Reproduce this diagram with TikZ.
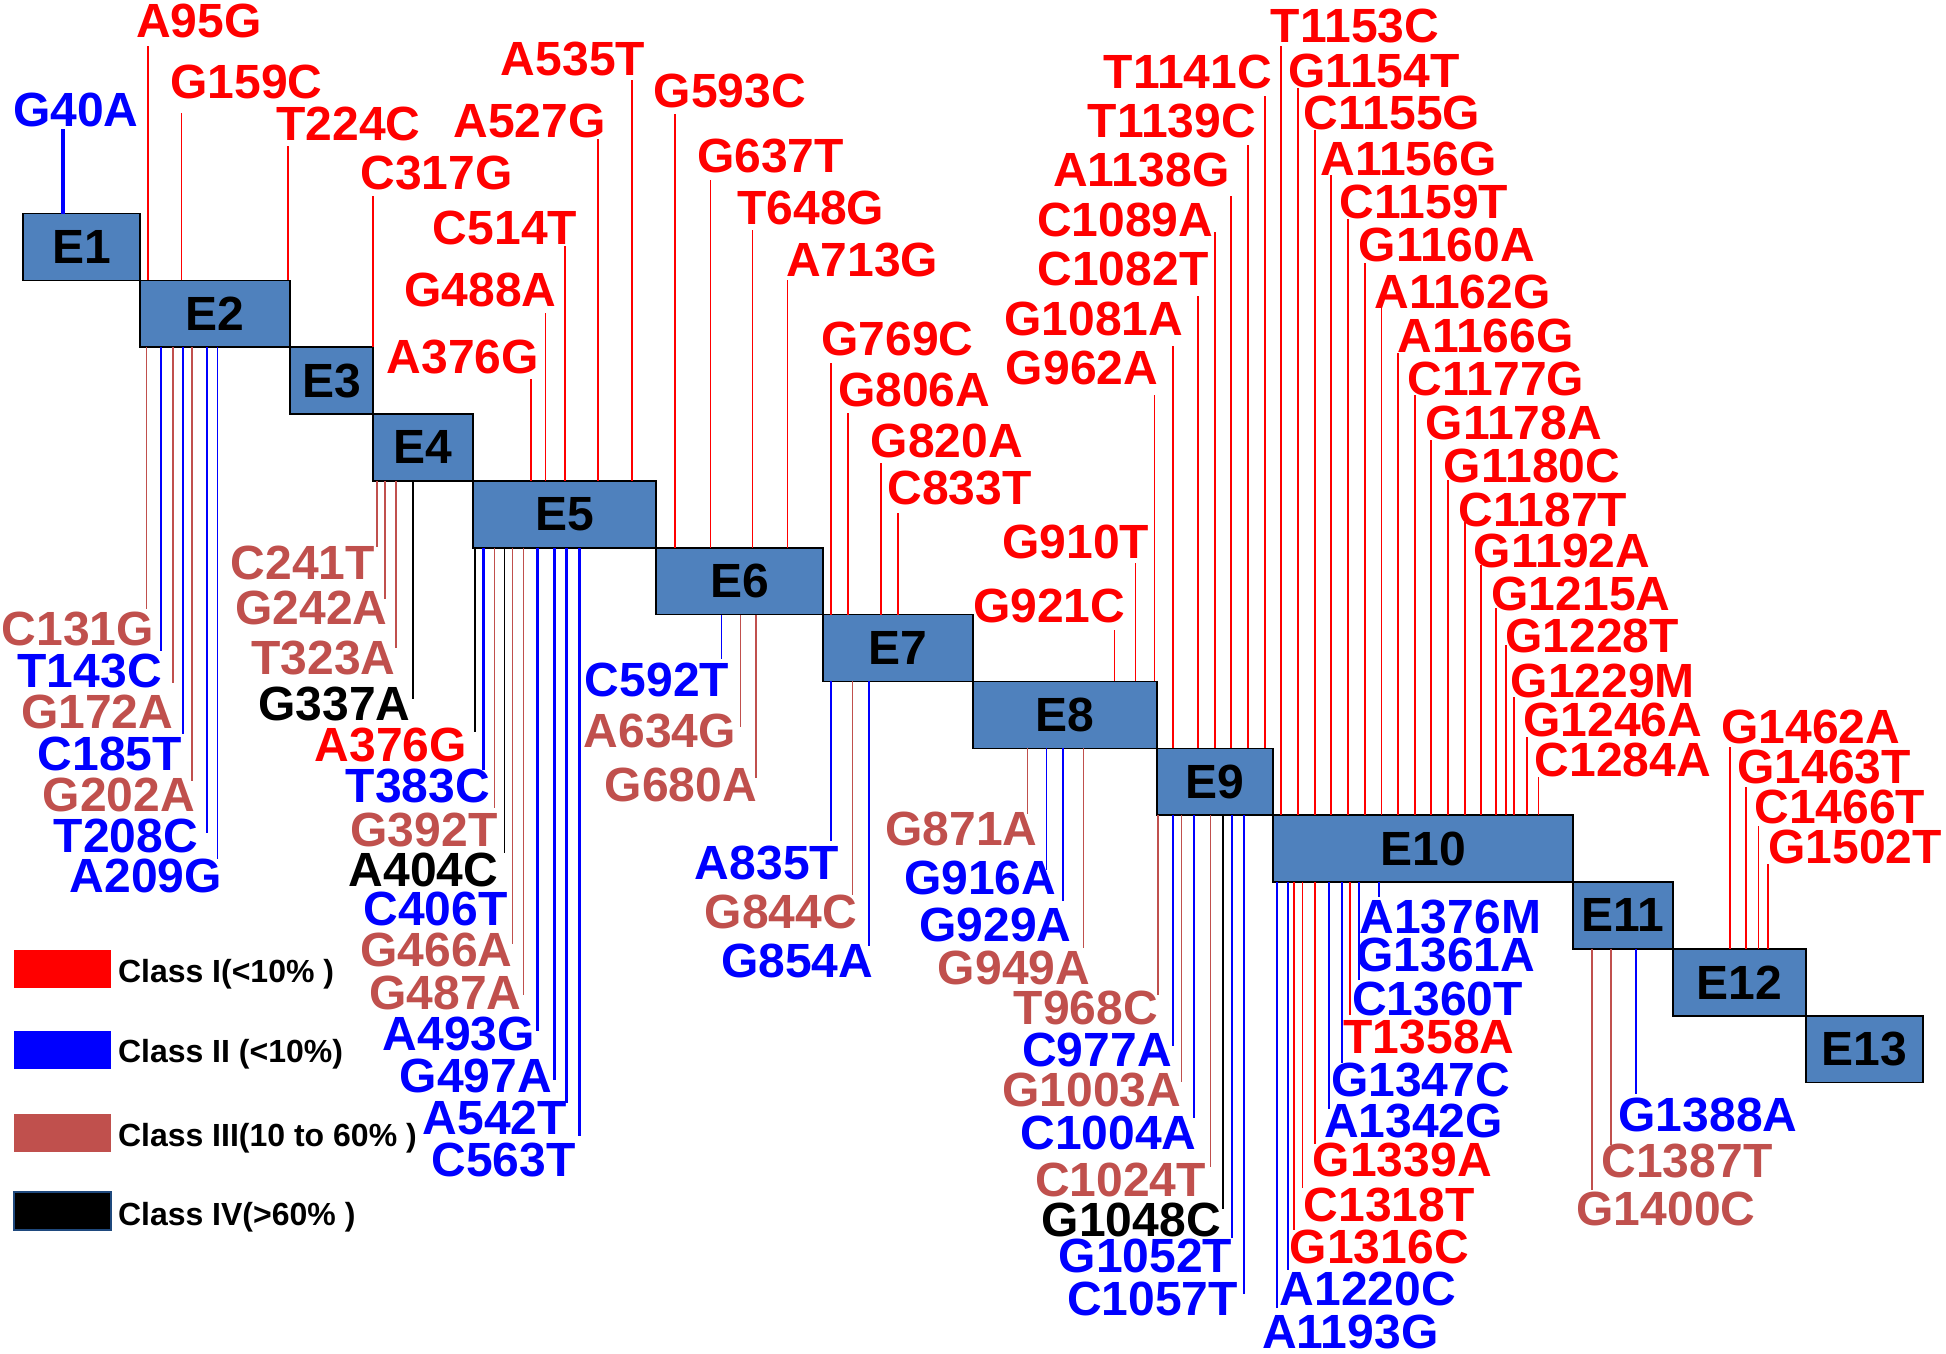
\documentclass[tikz,border=0pt]{standalone}
\usepackage{fontspec}
\setmainfont{Liberation Sans}
\definecolor{myred}{RGB}{255,0,0}
\definecolor{myblue}{RGB}{0,0,255}
\definecolor{mybrown}{RGB}{192,80,77}
\definecolor{boxblue}{RGB}{79,129,189}
\definecolor{swborder}{RGB}{31,73,125}
\newcommand\mlab[4]{\node[lbl,text=#1] (#2) at (#4) {#3};}
\newcommand\mtop[4]{\draw[#1] (#2,0 |- #4.north) -- (#2,#3);}
\newcommand\mbot[4]{\draw[#1] (#2,0 |- #4.south) -- (#2,#3);}
\begin{document}
\begin{tikzpicture}[x=1pt,y=-1pt,
 exon/.style={draw=black,line width=1.6pt,fill=boxblue,anchor=north west,inner sep=0pt,outer sep=0pt,minimum height=66.85pt,font=\fontsize{48}{48}\selectfont\bfseries},
 lbl/.style={anchor=base,inner sep=0pt,outer sep=0pt,font=\fontsize{48}{48}\selectfont\bfseries},
 cR/.style={draw=myred,line width=1.5pt},
 cB/.style={draw=myblue,line width=1.8pt},
 cBT/.style={draw=myblue,line width=3.5pt},
 cW/.style={draw=mybrown,line width=1.5pt},
 cK/.style={draw=black,line width=1.5pt},
 swatch/.style={minimum width=97pt,minimum height=38pt,inner sep=0pt,outer sep=0pt,anchor=north west},
 legtxt/.style={anchor=base west,inner sep=0pt,outer sep=0pt,font=\fontsize{32}{32}\selectfont\bfseries}
]
\fill[white] (0,0) rectangle (1946,1354);
\useasboundingbox (0,0) rectangle (1946,1354);

% exons
\node[exon,minimum width=117pt] (E1) at (23,213.5) {E1};
\node[exon,minimum width=150pt] (E2) at (140,280.35) {E2};
\node[exon,minimum width=83pt] (E3) at (290,347.2) {E3};
\node[exon,minimum width=100pt] (E4) at (373,414.05) {E4};
\node[exon,minimum width=183pt] (E5) at (473,480.9) {E5};
\node[exon,minimum width=167pt] (E6) at (656,547.75) {E6};
\node[exon,minimum width=150pt] (E7) at (823,614.6) {E7};
\node[exon,minimum width=184pt] (E8) at (973,681.45) {E8};
\node[exon,minimum width=116pt] (E9) at (1157,748.3) {E9};
\node[exon,minimum width=300pt] (E10) at (1273,815.15) {E10};
\node[exon,minimum width=100pt] (E11) at (1573,882) {E11};
\node[exon,minimum width=133pt] (E12) at (1673,948.85) {E12};
\node[exon,minimum width=117pt] (E13) at (1806,1015.7) {E13};

% ---------- top mutations ----------
\mlab{myblue}{G40A}{G40A}{75.7,126.8} \mtop{cBT}{63}{129}{E1}
\mlab{myred}{A95G}{A95G}{199,37.5} \mtop{cR}{148}{46}{E2}
\mlab{myred}{G159C}{G159C}{246.5,98} \mtop{cR}{181.7}{113}{E2}
\mlab{myred}{T224C}{T224C}{348.5,140} \mtop{cR}{288}{146}{E2}
\mlab{myred}{C317G}{C317G}{436.5,189} \mtop{cR}{373}{196}{E3}
\mlab{myred}{A376Gt}{A376G}{463,373} \mtop{cR}{531}{379}{E5}
\mlab{myred}{G488A}{G488A}{480.5,306} \mtop{cR}{545.5}{313}{E5}
\mlab{myred}{C514T}{C514T}{505,244} \mtop{cR}{565}{246}{E5}
\mlab{myred}{A527G}{A527G}{529.5,137.5} \mtop{cR}{598}{139}{E5}
\mlab{myred}{A535T}{A535T}{573,75.7} \mtop{cR}{632}{80}{E5}
\mlab{myred}{G593C}{G593C}{730,107} \mtop{cR}{675}{114}{E6}
\mlab{myred}{G637T}{G637T}{770.5,172} \mtop{cR}{710.7}{180}{E6}
\mlab{myred}{T648G}{T648G}{810.7,224.6} \mtop{cR}{752.7}{230}{E6}
\mlab{myred}{A713G}{A713G}{862.3,276.8} \mtop{cR}{787.5}{280}{E6}
\mlab{myred}{G769C}{G769C}{897.5,355} \mtop{cR}{831}{362.5}{E7}
\mlab{myred}{G806A}{G806A}{914.3,406} \mtop{cR}{847.8}{413}{E7}
\mlab{myred}{G820A}{G820A}{947,457.6} \mtop{cR}{881}{463}{E7}
\mlab{myred}{C833T}{C833T}{959.5,504.5} \mtop{cR}{898}{512.5}{E7}
\mlab{myred}{G910T}{G910T}{1075.9,558} \mtop{cR}{1135.7}{563.4}{E8}
\mlab{myred}{G921C}{G921C}{1049.3,622.8} \mtop{cR}{1114.7}{629.5}{E8}
\mlab{myred}{G962A}{G962A}{1082,384.8} \mtop{cR}{1154.5}{395}{E8}
\mlab{myred}{G1081A}{G1081A}{1093.8,335.7} \mtop{cR}{1172.8}{346}{E9}
\mlab{myred}{C1082T}{C1082T}{1123,285.7} \mtop{cR}{1198}{295.5}{E9}
\mlab{myred}{C1089A}{C1089A}{1125.3,236.6} \mtop{cR}{1215}{232}{E9}
\mlab{myred}{A1138G}{A1138G}{1141.3,186.6} \mtop{cR}{1230.8}{195.5}{E9}
\mlab{myred}{T1139C}{T1139C}{1171.8,137.5} \mtop{cR}{1248}{145}{E9}
\mlab{myred}{T1141C}{T1141C}{1187.8,88.4} \mtop{cR}{1265}{96}{E9}
\mlab{myred}{T1153C}{T1153C}{1355,42.4} \mtop{cR}{1280.8}{46}{E10}
\mlab{myred}{G1154T}{G1154T}{1374,87} \mtop{cR}{1298}{88}{E10}
\mlab{myred}{C1155G}{C1155G}{1392,129.5} \mtop{cR}{1314.75}{130}{E10}
\mlab{myred}{A1156G}{A1156G}{1408.4,175} \mtop{cR}{1330.8}{175}{E10}
\mlab{myred}{C1159T}{C1159T}{1424,218.75} \mtop{cR}{1347.8}{219}{E10}
\mlab{myred}{G1160A}{G1160A}{1446.8,261} \mtop{cR}{1364.75}{263}{E10}
\mlab{myred}{A1162G}{A1162G}{1462.5,308} \mtop{cR}{1381.3}{308}{E10}
\mlab{myred}{A1166G}{A1166G}{1485.5,352.7} \mtop{cR}{1398.2}{353}{E10}
\mlab{myred}{C1177G}{C1177G}{1496,395} \mtop{cR}{1414.75}{395}{E10}
\mlab{myred}{G1178A}{G1178A}{1513.8,439.7} \mtop{cR}{1431}{440}{E10}
\mlab{myred}{G1180C}{G1180C}{1532,482} \mtop{cR}{1448}{480}{E10}
\mlab{myred}{C1187T}{C1187T}{1543,526} \mtop{cR}{1464.75}{522}{E10}
\mlab{myred}{G1192A}{G1192A}{1562,567} \mtop{cR}{1481}{565}{E10}
\mlab{myred}{G1215A}{G1215A}{1581,610.7} \mtop{cR}{1496}{608}{E10}
\mlab{myred}{G1228T}{G1228T}{1592,652.7} \mtop{cR}{1506}{645}{E10}
\mlab{myred}{G1229M}{G1229M}{1602.7,697} \mtop{cR}{1514}{697}{E10}
\mlab{myred}{G1246A}{G1246A}{1612.9,736.6} \mtop{cR}{1527}{737}{E10}
\mlab{myred}{C1284A}{C1284A}{1623,776.8} \mtop{cR}{1538.4}{777}{E10}
\mlab{myred}{G1462A}{G1462A}{1810.7,743.3} \mtop{cR}{1730}{747}{E12}
\mlab{myred}{G1463T}{G1463T}{1824,783.5} \mtop{cR}{1746}{787}{E12}
\mlab{myred}{C1466T}{C1466T}{1839.8,823.6} \mtop{cR}{1758.5}{826}{E12}
\mlab{myred}{G1502T}{G1502T}{1855,863.8} \mtop{cR}{1768}{864}{E12}

% ---------- bottom mutations ----------
% E2
\mlab{mybrown}{C131G}{C131G}{78,645} \mbot{cW}{146.4}{609.4}{E2}
\mlab{myblue}{T143C}{T143C}{89.7,687.5} \mbot{cB}{160.7}{651}{E2}
\mlab{mybrown}{G172A}{G172A}{97.2,728.6} \mbot{cW}{172.8}{683}{E2}
\mlab{myblue}{C185T}{C185T}{110,770} \mbot{cB}{183}{734}{E2}
\mlab{mybrown}{G202A}{G202A}{118.7,811.6} \mbot{cW}{192}{781}{E2}
\mlab{myblue}{T208C}{T208C}{126,852.7} \mbot{cB}{206.7}{832.6}{E2}
\mlab{myblue}{A209G}{A209G}{146,892.9} \mbot{cB}{217.4}{859}{E2}
% E4
\mlab{mybrown}{C241T}{C241T}{303,579.5} \mbot{cW}{377}{547}{E4}
\mlab{mybrown}{G242A}{G242A}{311.6,624} \mbot{cW}{384.8}{599}{E4}
\mlab{mybrown}{T323A}{T323A}{323.5,674} \mbot{cW}{396}{648}{E4}
\mlab{black}{G337A}{G337A}{334.5,720} \mbot{cK}{413}{698.7}{E4}
% E5
\mlab{myred}{A376Gb}{A376G}{391,761} \mbot{cK}{475}{732}{E5}
\mlab{myblue}{T383C}{T383C}{418,802.7} \mbot{cBT}{483.3}{770}{E5}
\mlab{mybrown}{G392T}{G392T}{424,846} \mbot{cW}{494.3}{808}{E5}
\mlab{black}{A404C}{A404C}{423.4,886} \mbot{cK}{504.3}{852.7}{E5}
\mlab{myblue}{C406T}{C406T}{435.4,925}
\mlab{mybrown}{G466A}{G466A}{436.6,966.5} \mbot{cW}{512.7}{944}{E5}
\mlab{mybrown}{G487A}{G487A}{445.5,1009} \mbot{cW}{523.3}{995}{E5}
\mlab{myblue}{A493G}{A493G}{459,1050} \mbot{cBT}{537.7}{1031}{E5}
\mlab{myblue}{G497A}{G497A}{476,1092.8} \mbot{cBT}{554.3}{1080}{E5}
\mlab{myblue}{A542T}{A542T}{494.7,1134} \mbot{cBT}{566.7}{1103}{E5}
\mlab{myblue}{C563T}{C563T}{503.6,1176} \mbot{cBT}{579.3}{1136}{E5}
% E6
\mlab{myblue}{C592T}{C592T}{657,696} \mbot{cB}{721.4}{659.4}{E6}
\mlab{mybrown}{A634G}{A634G}{660,747.3} \mbot{cW}{740.6}{727}{E6}
\mlab{mybrown}{G680A}{G680A}{680.7,801.8} \mbot{cW}{756}{777.7}{E6}
% E7
\mlab{myblue}{A835T}{A835T}{767,879} \mbot{cB}{831}{841}{E7}
\mlab{mybrown}{G844C}{G844C}{780.9,928} \mbot{cW}{852.7}{894.6}{E7}
\mlab{myblue}{G854A}{G854A}{797.2,977} \mbot{cB}{869}{946}{E7}
% E8
\mlab{mybrown}{G871A}{G871A}{961.6,845.5} \mbot{cW}{1027.7}{814}{E8}
\mlab{myblue}{G916A}{G916A}{980.3,894.6} \mbot{cB}{1046.4}{870}{E8}
\mlab{myblue}{G929A}{G929A}{995.5,941.5} \mbot{cB}{1063}{901}{E8}
\mlab{mybrown}{G949A}{G949A}{1014,984} \mbot{cW}{1083.5}{948}{E8}
% E9
\mlab{mybrown}{T968C}{T968C}{1086,1024} \mbot{cW}{1158}{995}{E9}
\mlab{myblue}{C977A}{C977A}{1097,1066.5} \mbot{cB}{1172.8}{1046}{E9}
\mlab{mybrown}{G1003A}{G1003A}{1091.8,1106.7} \mbot{cW}{1181.7}{1082}{E9}
\mlab{myblue}{C1004A}{C1004A}{1108.5,1149} \mbot{cB}{1193.75}{1118}{E9}
\mlab{mybrown}{C1024T}{C1024T}{1120.5,1196} \mbot{cW}{1210.7}{1167}{E9}
\mlab{black}{G1048C}{G1048C}{1131.3,1236} \mbot{cK}{1222.8}{1209}{E9}
\mlab{myblue}{G1052T}{G1052T}{1145.4,1272} \mbot{cB}{1231.7}{1238}{E9}
\mlab{myblue}{C1057T}{C1057T}{1152.5,1315.6} \mbot{cB}{1244}{1294}{E9}
% E10
\mlab{myblue}{A1193G}{A1193G}{1350.3,1348} \mbot{cB}{1277.3}{1308}{E10}
\mlab{myblue}{A1220C}{A1220C}{1367.7,1305.8} \mbot{cB}{1288.3}{1270}{E10}
\mlab{myred}{G1316C}{G1316C}{1379.3,1263.4} \mbot{cR}{1294}{1230}{E10}
\mlab{myred}{C1318T}{C1318T}{1389.3,1221.9} \mbot{cR}{1302.3}{1187.5}{E10}
\mlab{myred}{G1339A}{G1339A}{1402.3,1176} \mbot{cR}{1315}{1144}{E10}
\mlab{myblue}{A1342G}{A1342G}{1413.4,1137} \mbot{cB}{1329.3}{1109}{E10}
\mlab{myblue}{G1347C}{G1347C}{1420.6,1096.9} \mbot{cB}{1341.7}{1062.5}{E10}
\mlab{myred}{T1358A}{T1358A}{1429,1053.6} \mbot{cR}{1350}{1014.7}{E10}
\mlab{myblue}{C1360T}{C1360T}{1437.4,1015.6} \mbot{cB}{1358.7}{980}{E10}
\mlab{myblue}{G1361A}{G1361A}{1445.9,971.9}
\mlab{myblue}{A1376M}{A1376M}{1450.3,933} \mbot{cB}{1379.3}{897}{E10}
% E11
\mlab{mybrown}{G1400C}{G1400C}{1666,1225.4} \mbot{cW}{1592}{1189.7}{E11}
\mlab{mybrown}{C1387T}{C1387T}{1687,1177} \mbot{cW}{1611}{1145}{E11}
\mlab{myblue}{G1388A}{G1388A}{1708,1131.7} \mbot{cB}{1635.7}{1093.7}{E11}

% ---------- legend ----------
\node[swatch,fill=myred] (sw1) at (14,950) {};
\node[swatch,fill=myblue] (sw2) at (14,1031) {};
\node[swatch,fill=mybrown] (sw3) at (14,1114) {};
\node[swatch,fill=black,draw=swborder,line width=1.5pt] (sw4) at (14,1192) {};
\node[legtxt] (lg1) at (118,982) {Class I(<10\% )};
\node[legtxt] (lg2) at (118,1062.5) {Class II (<10\%)};
\node[legtxt] (lg3) at (118,1146.7) {Class III(10 to 60\% )};
\node[legtxt] (lg4) at (118,1225) {Class IV(>60\% )};
\end{tikzpicture}
\end{document}
